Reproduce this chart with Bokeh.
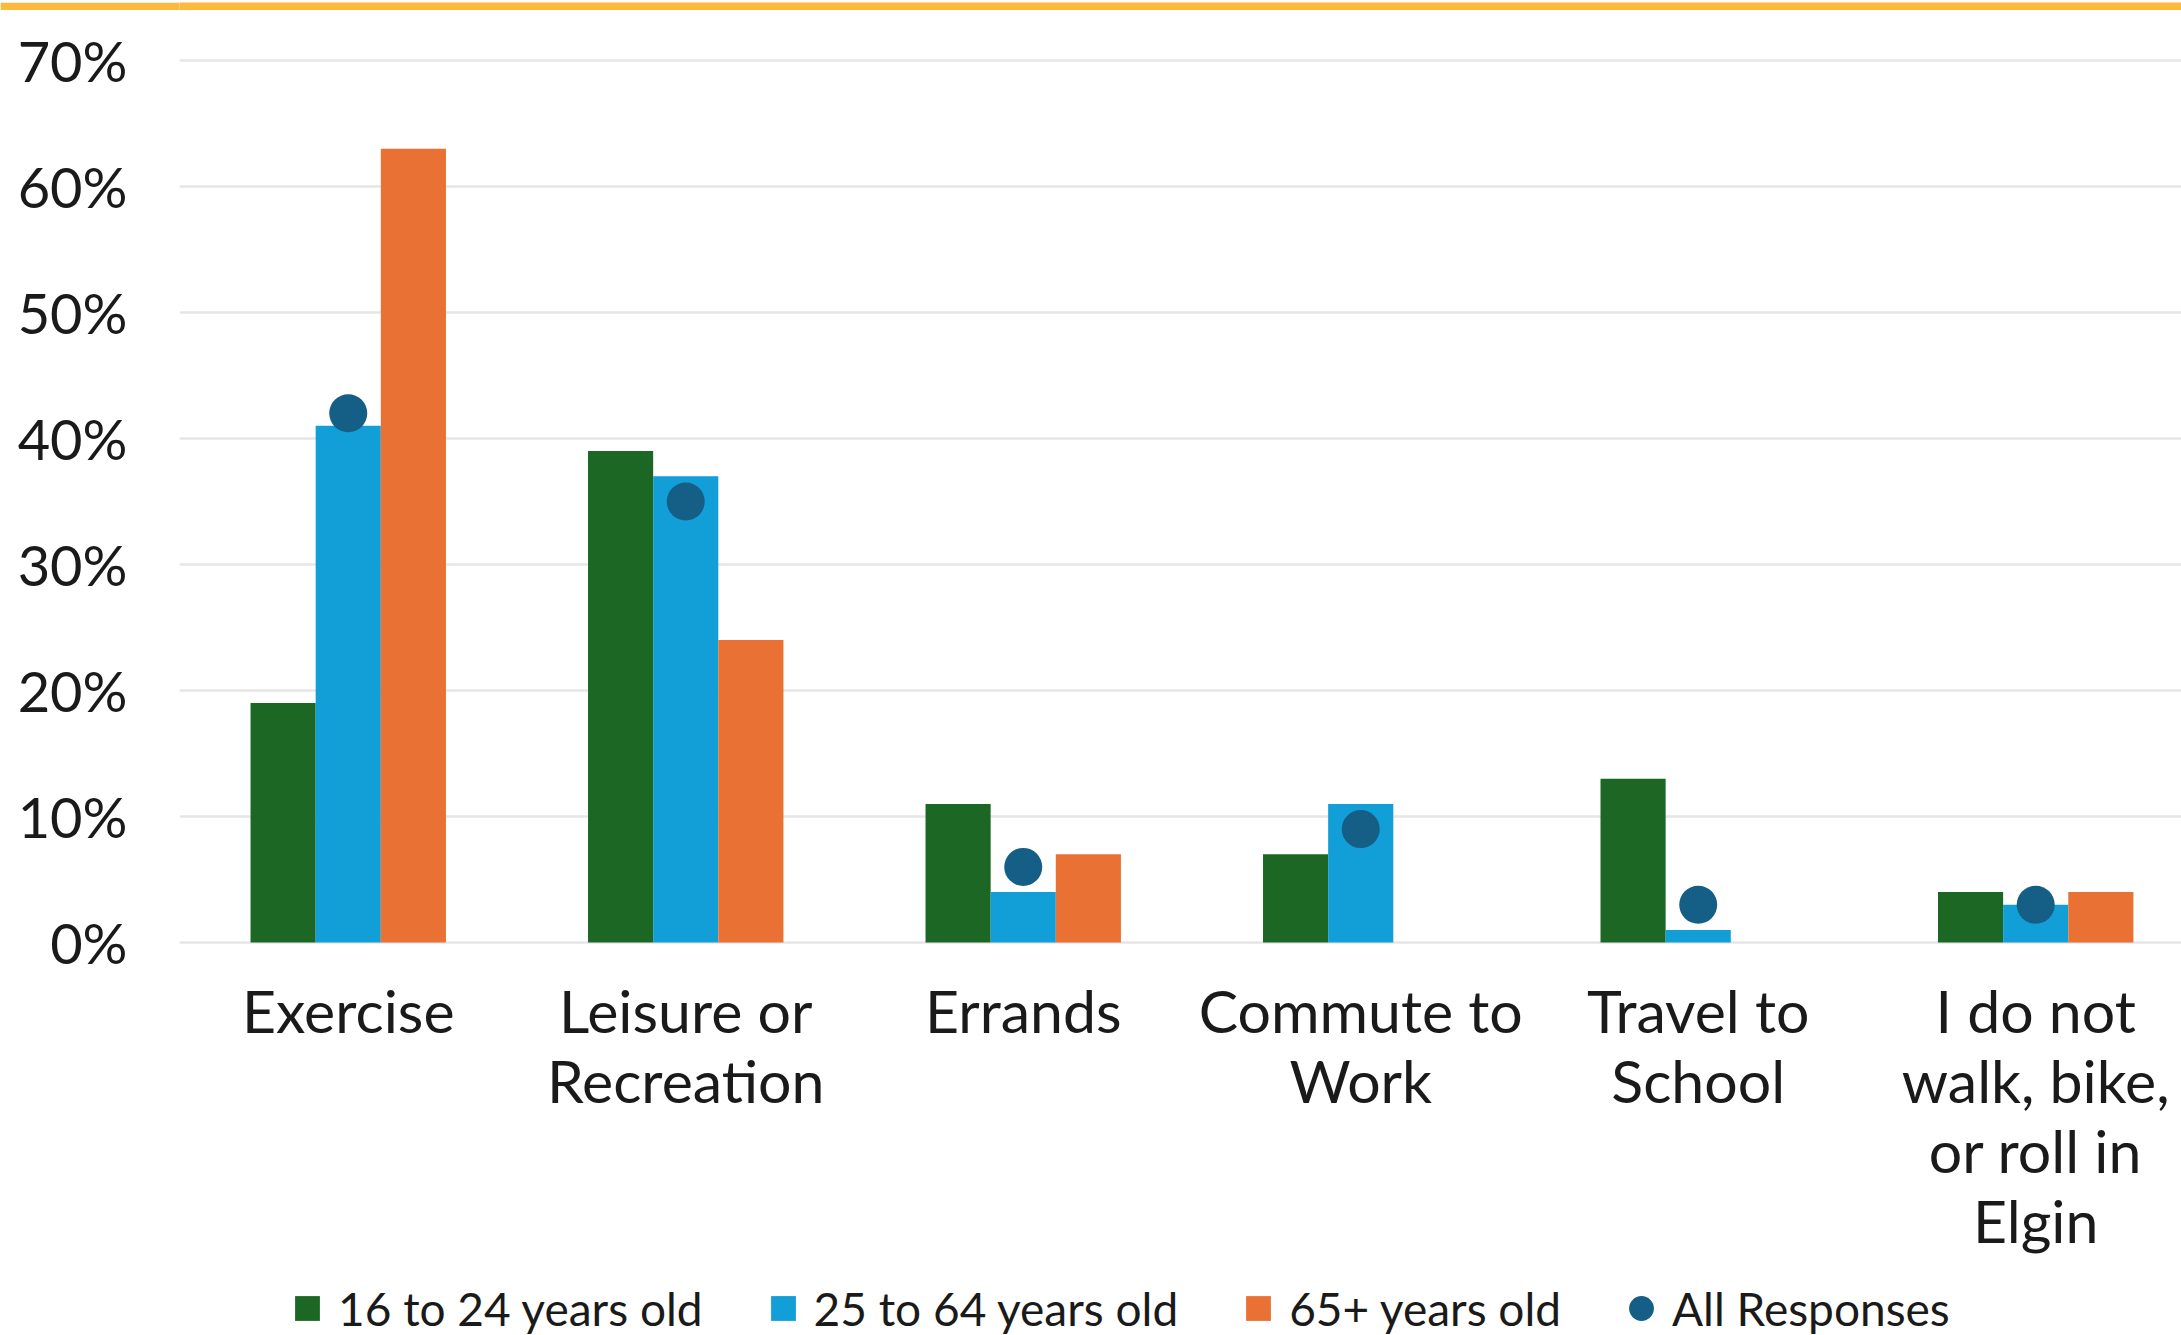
import numpy as np
from bokeh.plotting import figure
from bokeh.layouts import column
from bokeh.models import Range1d, FixedTicker, Legend, LegendItem
from bokeh.embed import file_html
from bokeh.resources import INLINE

# ---- data ----
categories = ["Exercise", "Leisure or\nRecreation", "Errands", "Commute to\nWork",
              "Travel to\nSchool", "I do not\nwalk, bike,\nor roll in\nElgin"]
age_16_24 = [19, 39, 11, 7, 13, 4]
age_25_64 = [41, 37, 4, 11, 1, 3]
age_65_plus = [63, 24, 7, 0, 0, 4]
all_responses = [42, 35, 6, 9, 3, 3]
series_names = ["16 to 24 years old", "25 to 64 years old", "65+ years old", "All Responses"]
y_ticks = [0, 10, 20, 30, 40, 50, 60, 70]
y_tick_labels = ["0%", "10%", "20%", "30%", "40%", "50%", "60%", "70%"]

GREEN = "#1B6723"
BLUE = "#129ED6"
ORANGE = "#E87133"
DOT = "#155E85"
BAND = "#FDB93C"
TEXT = "#1a1a1a"
FONT = "Lato"

idx = np.arange(len(categories)) + 0.5
bw = 0.193

# ---- top decorative band ----
band = figure(width=2181, height=10, output_backend="svg", toolbar_location=None,
              x_axis_location=None, y_axis_location=None,
              min_border_left=21, min_border_right=0, min_border_top=0, min_border_bottom=0)
band.background_fill_color = BAND
band.border_fill_color = BAND
band.outline_line_color = None
band.xgrid.visible = False
band.ygrid.visible = False

# ---- main chart ----
p = figure(width=2181, height=1249, output_backend="svg", toolbar_location=None,
           x_range=Range1d(0, 5.932), y_range=Range1d(-0.476, 73.964),
           min_border_left=179, min_border_right=0, min_border_top=0,
           min_border_bottom=310)
p.outline_line_color = None
p.background_fill_color = "white"
p.border_fill_color = "white"

p.vbar(x=idx - bw, top=age_16_24, width=bw, color=GREEN, line_color=None)
p.vbar(x=idx, top=age_25_64, width=bw, color=BLUE, line_color=None)
p.vbar(x=idx + bw, top=age_65_plus, width=bw, color=ORANGE, line_color=None)
p.scatter(x=idx, y=all_responses, size=38, color=DOT, line_color=None)

p.yaxis.ticker = FixedTicker(ticks=y_ticks)
p.yaxis.major_label_overrides = {t: l for t, l in zip(y_ticks, y_tick_labels)}
p.yaxis.axis_line_color = None
p.yaxis.major_tick_line_color = None
p.yaxis.major_tick_out = 0
p.yaxis.minor_tick_line_color = None
p.yaxis.major_label_standoff = 52
p.yaxis.major_label_text_font = FONT
p.yaxis.major_label_text_font_size = "56px"
p.yaxis.major_label_text_color = TEXT

p.xaxis.ticker = FixedTicker(ticks=list(idx))
p.xaxis.major_label_overrides = {float(x): c for x, c in zip(idx, categories)}
p.xaxis.axis_line_color = None
p.xaxis.major_tick_line_color = None
p.xaxis.major_tick_out = 0
p.xaxis.minor_tick_line_color = None
p.xaxis.major_label_standoff = 26
p.xaxis.major_label_text_font = FONT
p.xaxis.major_label_text_font_size = "59px"
p.xaxis.major_label_text_color = TEXT
p.xaxis.major_label_text_line_height = 0.99

p.xgrid.grid_line_color = None
p.ygrid.ticker = FixedTicker(ticks=y_ticks)
p.ygrid.grid_line_color = "#E6E6E6"
p.ygrid.grid_line_width = 2.5

# ---- legend strip ----
lg = figure(width=2181, height=76, output_backend="svg", toolbar_location=None,
            x_axis_location=None, y_axis_location=None,
            min_border_left=0, min_border_right=0, min_border_top=0, min_border_bottom=0)
lg.outline_line_color = None
lg.xgrid.visible = False
lg.ygrid.visible = False
nan = [np.nan]
g1 = lg.scatter(x=nan, y=nan, marker="square", color=GREEN, line_color=None)
g2 = lg.scatter(x=nan, y=nan, marker="square", color=BLUE, line_color=None)
g3 = lg.scatter(x=nan, y=nan, marker="square", color=ORANGE, line_color=None)
g4 = lg.scatter(x=nan, y=nan, marker="circle", color=DOT, line_color=None)
legend = Legend(items=[LegendItem(label=n, renderers=[g]) for n, g in
                       zip(series_names, [g1, g2, g3, g4])],
                orientation="horizontal", location=(97, -4),
                glyph_width=62, glyph_height=62, label_standoff=0, spacing=49,
                padding=0, margin=0, border_line_color=None, background_fill_alpha=0,
                label_text_font=FONT, label_text_font_size="46px",
                label_text_color=TEXT)
lg.add_layout(legend, "center")

layout = column(band, p, lg, spacing=0)
open("out.html", "w").write(file_html(layout, INLINE))
